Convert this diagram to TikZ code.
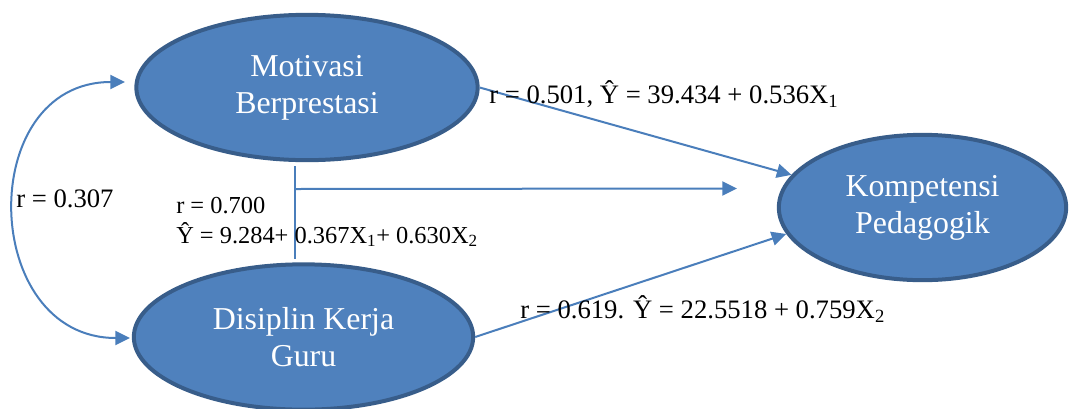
\documentclass[tikz,border=0pt]{standalone}
\usepackage{fontspec}
\setmainfont{Liberation Serif}
\usetikzlibrary{shapes.geometric,arrows.meta}
\definecolor{varfill}{HTML}{4F81BD}
\definecolor{vardraw}{HTML}{385D8A}
\definecolor{pathline}{HTML}{4A7EBB}
\tikzset{
    var/.style={ellipse,fill=varfill,draw=vardraw,line width=3pt,inner sep=0pt,
        text=white,align=center,font=\fontsize{23.9}{27.75}\selectfont},
    path/.style={draw=pathline,line width=1.5pt},
    tip/.style={-{Triangle[length=11pt,width=10.5pt]}},
    coef/.style={inner sep=0pt,anchor=base west,font=\fontsize{20}{24}\selectfont}
}
\begin{document}
\begin{tikzpicture}[x=0.75pt,y=-0.75pt]
    \useasboundingbox (0,0) rectangle (1070,408);
    \node[var,minimum width=256pt,minimum height=109pt] (m) at (307,87.5) {Motivasi\\Berprestasi};
    \node[var,minimum width=254.5pt,minimum height=109pt] (d) at (303.5,337) {Disiplin Kerja\\Guru};
    \node[var,minimum width=215.5pt,minimum height=109pt] (k) at (922.5,207.5) {Kompetensi\\Pedagogik};
    % correlation between the two predictors
    \coordinate (mleft) at (125,82);
    \coordinate (dleft) at (130,338);
    \draw[path,{Triangle[length=11pt,width=10.5pt]}-{Triangle[length=11pt,width=10.5pt]}]
        (mleft) to[out=180,in=180,looseness=1.5] (dleft);
    \node[coef] (rmd) at (16,207) {r = 0.307};
    % joint effect
    \coordinate (vtop) at (295,166);
    \coordinate (vbot) at (295,259);
    \coordinate (vjoin) at (295,189);
    \coordinate (htip) at (737,188.5);
    \draw[path] (vtop) -- (vbot);
    \draw[path,tip] (vjoin) -- (htip);
    \node[coef,align=left,font=\fontsize{18.3}{22.5}\selectfont] (rjoint) at (176,243)
        {r = 0.700\\Ŷ = 9.284+ 0.367X\textsubscript{1}+ 0.630X\textsubscript{2}};
    % single effects
    \draw[path,tip] (m.east) -- (k.166);
    \draw[path,tip] (d.east) -- (k.191);
    \node[coef] (rmk) at (489,103) {r = 0.501, Ŷ = 39.434 + 0.536X\textsubscript{1}};
    \node[coef] (rdk) at (520,318) {r = 0.619. Ŷ = 22.5518 + 0.759X\textsubscript{2}};
\end{tikzpicture}
\end{document}
